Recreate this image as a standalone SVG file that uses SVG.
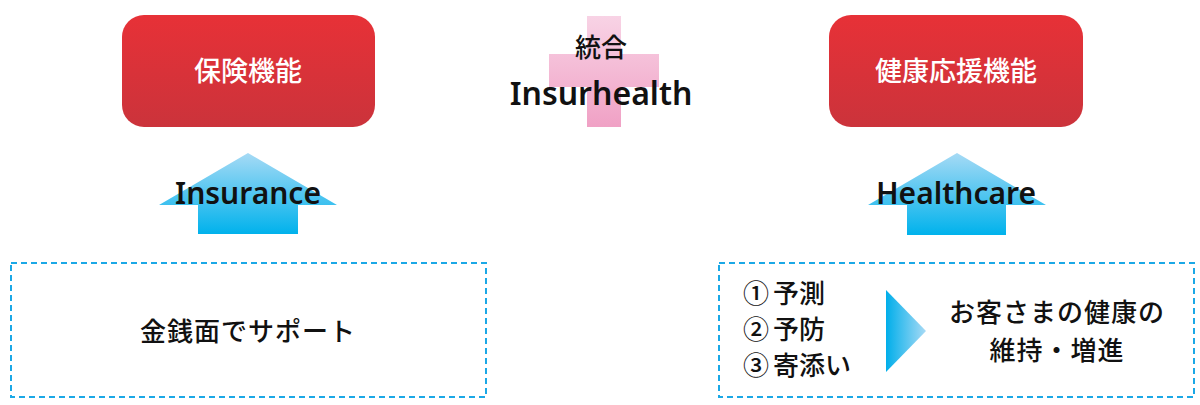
<svg xmlns="http://www.w3.org/2000/svg" width="1200" height="405" viewBox="0 0 1200 405">
<defs>
<linearGradient id="red" x1="0" y1="0" x2="0" y2="1">
<stop offset="0" stop-color="#e73137"/>
<stop offset="1" stop-color="#cb333b"/>
</linearGradient>
<linearGradient id="pink" gradientUnits="userSpaceOnUse" x1="0" y1="16" x2="0" y2="127">
<stop offset="0" stop-color="#f8d3e5"/>
<stop offset="1" stop-color="#f0a1c5"/>
</linearGradient>
<linearGradient id="blueUp" gradientUnits="objectBoundingBox" x1="0" y1="0" x2="0" y2="1">
<stop offset="0" stop-color="#a6daf5"/>
<stop offset="1" stop-color="#00b2ec"/>
</linearGradient>
<linearGradient id="blueRight" x1="0" y1="0" x2="1" y2="0">
<stop offset="0" stop-color="#00aeea"/>
<stop offset="1" stop-color="#a8daf5"/>
</linearGradient>
<style>
.box{fill:url(#red)}
.boxText{font-family:"Noto Sans CJK JP","Noto Sans",sans-serif;font-size:27px;font-weight:500;fill:#ffffff;text-anchor:middle}
.arrow{fill:url(#blueUp)}
.arrowText{font-family:"Noto Sans","Noto Sans CJK JP",sans-serif;font-size:30px;font-weight:600;fill:#111111;text-anchor:middle}
.dash{fill:none;stroke:#1ba8e6;stroke-width:2;stroke-dasharray:6 4}
.body{font-family:"Noto Sans CJK JP",sans-serif;font-size:26px;font-weight:500;fill:#111111}
</style>
</defs>

<g id="center-cross">
<path d="M587 16 H621 V54 H659 V87 H621 V127 H587 V87 H549 V54 H587 Z" fill="url(#pink)"/>
<text x="601" y="57" style="font-family:'Noto Sans CJK JP',sans-serif;font-size:26px;font-weight:500;fill:#111;text-anchor:middle">統合</text>
<text x="601" y="105" style="font-family:'Noto Sans','Noto Sans CJK JP',sans-serif;font-size:32px;font-weight:600;fill:#111;text-anchor:middle">Insurhealth</text>
</g>

<g id="insurance-function">
<rect class="box" x="122" y="15" width="253" height="112" rx="22"/>
<text class="boxText" x="248" y="81">保険機能</text>
</g>

<g id="health-function">
<rect class="box" x="829" y="15" width="254" height="112" rx="22"/>
<text class="boxText" x="956" y="81">健康応援機能</text>
</g>

<g id="connectors">
<g id="insurance-arrow">
<path class="arrow" d="M248 153 L337 205 L298 205 L298 234 L198 234 L198 205 L159 205 Z"/>
<text class="arrowText" x="248" y="204">Insurance</text>
</g>
<g id="healthcare-arrow">
<path class="arrow" d="M957 153 L1046 205 L1006 205 L1006 235 L907 235 L907 205 L868 205 Z"/>
<text class="arrowText" x="956" y="204">Healthcare</text>
</g>
</g>

<g id="money-support">
<rect class="dash" x="11" y="263" width="475" height="134"/>
<text class="body" x="248" y="341" text-anchor="middle" letter-spacing="1">金銭面でサポート</text>
</g>

<g id="health-support">
<rect class="dash" x="719" y="263" width="475" height="134"/>
<text class="body" x="743" y="303">①<tspan dx="4">予測</tspan></text>
<text class="body" x="743" y="339">②<tspan dx="4">予防</tspan></text>
<text class="body" x="743" y="375">③<tspan dx="4">寄添い</tspan></text>
<path d="M886 290 L926 331 L886 372 Z" fill="url(#blueRight)"/>
<text class="body" x="1057" y="322" text-anchor="middle" letter-spacing="1">お客さまの健康の</text>
<text class="body" x="1057" y="360" text-anchor="middle" letter-spacing="1">維持・増進</text>
</g>
</svg>
